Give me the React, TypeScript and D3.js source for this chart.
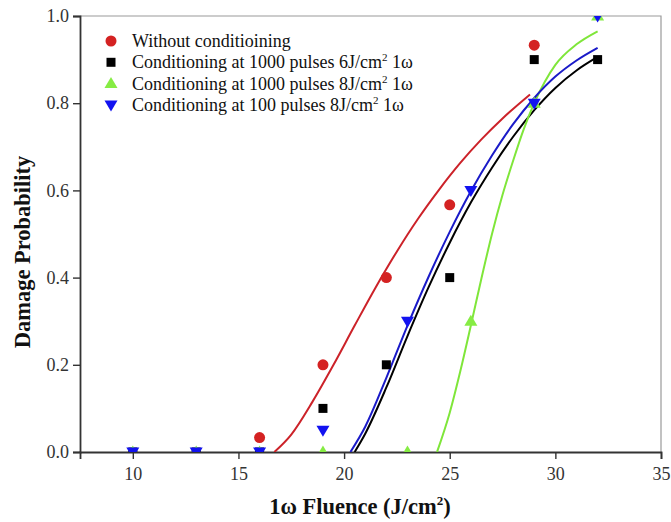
import React, { useEffect, useRef } from 'react';
import * as d3 from 'd3';

// measured points (fluence J/cm2, damage probability)
const redX = [16, 19, 22, 25, 29];
const redY = [0.033, 0.2, 0.4, 0.567, 0.933];
const blackX = [10, 13, 16, 19, 22, 25, 29, 32];
const blackY = [0, 0, 0, 0.1, 0.2, 0.4, 0.9, 0.9];
const greenX = [10, 13, 16, 19, 23, 26, 29, 32];
const greenY = [0, 0, 0, 0, 0, 0.3, 0.8, 1.0];
const blueX = [10, 13, 16, 19, 23, 26, 29, 32];
const blueY = [0, 0, 0, 0.05, 0.3, 0.6, 0.8, 1.0];

// fitted curves
const redFitX = [16.7, 17.5, 18.5, 19.5, 20.5, 21.5, 22.5, 23.5, 24.5, 25.5, 26.5, 27.5, 28.8];
const redFitY = [0, 0.04, 0.115, 0.2, 0.29, 0.378, 0.46, 0.535, 0.602, 0.663, 0.717, 0.765, 0.82];
const blackFitX = [20.5, 21, 22, 23, 24, 25, 26, 27, 28, 29, 30, 31, 32];
const blackFitY = [0, 0.042, 0.148, 0.266, 0.378, 0.48, 0.572, 0.652, 0.723, 0.784, 0.835, 0.875, 0.906];
const greenFitX = [24.4, 25, 25.5, 26, 26.5, 27, 27.5, 28, 28.5, 29, 30, 31, 32];
const greenFitY = [0, 0.09, 0.185, 0.29, 0.398, 0.5, 0.59, 0.668, 0.74, 0.8, 0.888, 0.935, 0.965];
const blueFitX = [20.3, 21, 22, 23, 24, 25, 26, 27, 28, 29, 30, 31, 32];
const blueFitY = [0, 0.058, 0.17, 0.29, 0.402, 0.505, 0.598, 0.68, 0.752, 0.812, 0.861, 0.898, 0.927];

const xTicks = [10, 15, 20, 25, 30, 35];
const yTicks = [0, 0.2, 0.4, 0.6, 0.8, 1.0];

const legendNames = [
  'Without conditioining',
  'Conditioning at 1000 pulses 6J/cm',
  'Conditioning at 1000 pulses 8J/cm',
  'Conditioning at 100 pulses 8J/cm',
];

const serif = '"Liberation Serif", "Times New Roman", serif';

const App = () => {
  const svgRef = useRef<SVGSVGElement>(null);

  useEffect(() => {
    const svg = d3.select(svgRef.current);
    svg.selectAll('*').remove();
    const width = 671;
    const height = 522;
    const margin = { top: 16, right: 10, bottom: 70, left: 80 };
    const w = width - margin.left - margin.right;
    const h = height - margin.top - margin.bottom;

    const x = d3.scaleLinear().domain([7.5, 35]).range([0, w]);
    const y = d3.scaleLinear().domain([0, 1]).range([h, 0]);

    svg.append('defs').append('clipPath').attr('id', 'plotClip')
      .append('rect').attr('width', w).attr('height', h);

    const g = svg.append('g')
      .attr('transform', `translate(${margin.left},${margin.top})`);

    // frame (top and right)
    g.append('path')
      .attr('d', `M0,0H${w}V${h}`)
      .attr('fill', 'none')
      .attr('stroke', '#9a9a9a')
      .attr('stroke-width', 1.2);

    // bottom axis
    const xAxis = g.append('g').attr('transform', `translate(0,${h})`);
    xAxis.call(d3.axisBottom(x).tickValues(d3.range(7.5, 35.01, 2.5)).tickSize(4).tickFormat(() => ''))
      .select('.domain').remove();
    xAxis.call(d3.axisBottom(x).tickValues(xTicks).tickSize(7).tickPadding(8).tickFormat(d3.format('d')));
    xAxis.selectAll('line').attr('stroke', '#333').attr('stroke-width', 1.4);
    xAxis.select('.domain').attr('stroke', '#333').attr('stroke-width', 1.8);
    xAxis.selectAll('text').attr('font-family', serif).attr('font-size', 18).attr('fill', '#333');

    // left axis
    const yAxis = g.append('g');
    yAxis.call(d3.axisLeft(y).tickValues(d3.range(0.1, 1, 0.2)).tickSize(4).tickFormat(() => ''))
      .select('.domain').remove();
    yAxis.call(d3.axisLeft(y).tickValues(yTicks).tickSize(7).tickPadding(4).tickFormat(d3.format('.1f')));
    yAxis.selectAll('line').attr('stroke', '#333').attr('stroke-width', 1.4);
    yAxis.select('.domain').attr('stroke', '#333').attr('stroke-width', 1.8);
    yAxis.selectAll('text').attr('font-family', serif).attr('font-size', 18).attr('fill', '#333');

    // axis titles
    const xt = svg.append('text')
      .attr('x', 360).attr('y', 514)
      .attr('text-anchor', 'middle')
      .attr('font-family', serif).attr('font-weight', 'bold').attr('font-size', 22.5)
      .attr('fill', '#111');
    xt.append('tspan').text('1ω Fluence (J/cm');
    xt.append('tspan').attr('dy', -9).attr('font-size', 13).text('2');
    xt.append('tspan').attr('dy', 9).text(')');

    svg.append('text')
      .attr('transform', 'translate(30,252) rotate(-90)')
      .attr('text-anchor', 'middle')
      .attr('font-family', serif).attr('font-weight', 'bold').attr('font-size', 22.5)
      .attr('fill', '#111')
      .text('Damage Probability');

    const plot = g.append('g').attr('clip-path', 'url(#plotClip)');

    const line = d3.line<[number, number]>()
      .curve(d3.curveMonotoneX)
      .x(d => x(d[0]))
      .y(d => y(d[1]));

    const fits = [
      { xs: redFitX, ys: redFitY, color: '#cc2229' },
      { xs: blackFitX, ys: blackFitY, color: '#000000' },
      { xs: greenFitX, ys: greenFitY, color: '#7fe63a' },
      { xs: blueFitX, ys: blueFitY, color: '#1a1ac8' },
    ];
    fits.forEach(f => {
      plot.append('path')
        .datum(f.xs.map((v, i) => [v, f.ys[i]] as [number, number]))
        .attr('fill', 'none')
        .attr('stroke', f.color)
        .attr('stroke-width', 2)
        .attr('d', line);
    });

    const circle = 'M5.5,0A5.5,5.5,0,1,1,-5.5,0A5.5,5.5,0,1,1,5.5,0Z';
    const square = 'M-4.5,-4.5H4.5V4.5H-4.5Z';
    const triUp = 'M0,-6.5L6.5,4.5H-6.5Z';
    const triDown = 'M0,6.5L6.5,-4.5H-6.5Z';

    const series = [
      { xs: redX, ys: redY, color: '#d42222', shape: circle },
      { xs: blackX, ys: blackY, color: '#000000', shape: square },
      { xs: greenX, ys: greenY, color: '#86ec44', shape: triUp },
      { xs: blueX, ys: blueY, color: '#1212f0', shape: triDown },
    ];
    series.forEach(s => {
      plot.selectAll(null)
        .data(s.xs.map((v, i) => [v, s.ys[i]]))
        .enter().append('path')
        .attr('transform', d => `translate(${x(d[0])},${y(d[1])})`)
        .attr('d', s.shape)
        .attr('fill', s.color);
    });

    // legend
    const legend = svg.append('g').attr('transform', 'translate(111,41)');
    series.forEach((s, i) => {
      const row = legend.append('g').attr('transform', `translate(0,${i * 21.3})`);
      row.append('path').attr('d', s.shape).attr('fill', s.color);
      const t = row.append('text')
        .attr('x', 21).attr('y', 6)
        .attr('font-family', serif).attr('font-size', 18).attr('fill', '#111');
      t.append('tspan').text(legendNames[i]);
      if (i > 0) {
        t.append('tspan').attr('dy', -7).attr('font-size', 11).text('2');
        t.append('tspan').attr('dy', 7).text(' 1ω');
      }
    });
  }, []);

  return (
    <svg ref={svgRef} width={671} height={522}
      style={{ position: 'absolute', left: 0, top: 0, background: '#fff' }} />
  );
};

export default App;
